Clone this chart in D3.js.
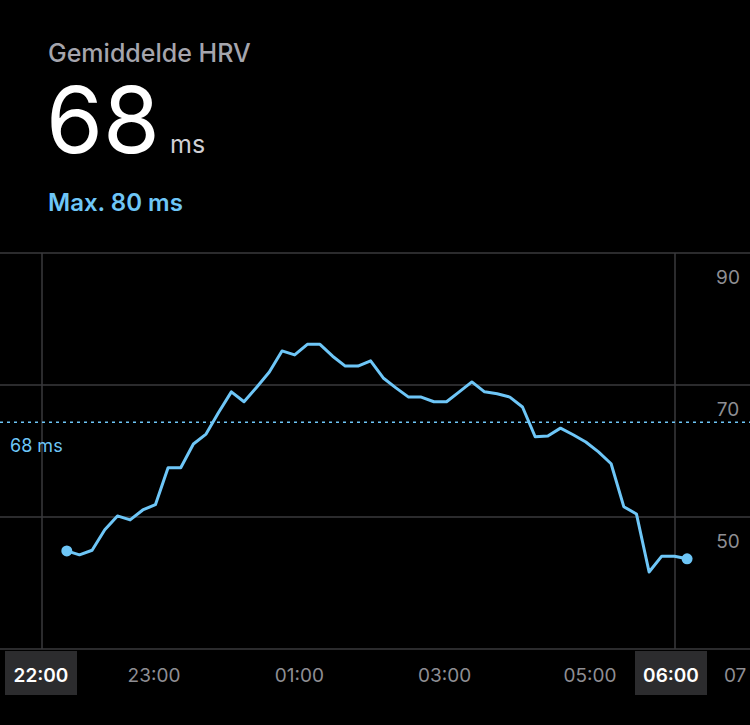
<!DOCTYPE html>
<html><head><meta charset="utf-8">
<script src="https://cdn.jsdelivr.net/npm/d3@7"></script>
<style>body{margin:0;background:#000}svg{display:block;font-family:Inter,"Open Sans",sans-serif}</style>
</head><body><div id="chart"></div>
<script>
// HRV per ~10 min, starting 21:48
const startHour = 21.8;
const stepHours = 0.1742;
const hrv = [48.5, 47.9, 48.6, 51.7, 53.8, 53.2, 54.7, 55.5, 61.1, 61.1,
  64.7, 66.2, 69.5, 72.6, 71.1, 73.3, 75.6, 78.8, 78.2, 79.8,
  79.8, 78.0, 76.5, 76.5, 77.3, 74.7, 73.2, 71.8, 71.8, 71.1,
  71.1, 72.6, 74.1, 72.6, 72.3, 71.8, 70.3, 65.8, 65.9, 67.1,
  66.1, 65.0, 63.5, 61.7, 55.2, 54.1, 45.3, 47.7, 47.7, 47.3];
const yTicks = [90, 70, 50];
const hourTicks = [22, 23, 25, 27, 29, 30, 31];
const boxedHours = [22, 30];
const average = 68;
const maxValue = 80;

const width = 750, height = 725;
const svg = d3.select('#chart').append('svg').attr('width', width).attr('height', height);

const x = d3.scaleLinear().domain([23, 29]).range([154, 590]);
const y = d3.scaleLinear().domain([70, 90]).range([409, 277]);
const gridOffset = -24;

// header
svg.append('text').attr('x', 48).attr('y', 62).attr('fill', '#a5a5ad')
  .attr('font-size', 25).attr('font-weight', 500).text('Gemiddelde HRV');
svg.append('text').attr('x', 46).attr('y', 153).attr('fill', '#fff')
  .attr('font-size', 92).text(average);
svg.append('text').attr('x', 170).attr('y', 153).attr('fill', '#d0d0d5')
  .attr('font-size', 25).text('ms');
svg.append('text').attr('x', 48).attr('y', 211).attr('fill', '#6ec6f7')
  .attr('font-size', 24).attr('font-weight', 600).text(`Max. ${maxValue} ms`);

// grid
const gridVals = [90, 70, 50, 30];
svg.selectAll('.hgrid').data(gridVals).enter().append('line')
  .attr('x1', 0).attr('x2', width)
  .attr('y1', d => y(d) + gridOffset).attr('y2', d => y(d) + gridOffset)
  .attr('stroke', '#3a3a3c').attr('stroke-width', 1.5);

const vx = h => h === 22 ? 42 : (h === 30 ? 675 : x(h));
svg.selectAll('.vgrid').data(boxedHours).enter().append('line')
  .attr('x1', vx).attr('x2', vx)
  .attr('y1', y(90) + gridOffset).attr('y2', y(30) + gridOffset)
  .attr('stroke', '#3a3a3c').attr('stroke-width', 1.5);

svg.selectAll('.ylab').data(yTicks).enter().append('text')
  .attr('x', 728).attr('y', d => y(d) + 7).attr('text-anchor', 'middle')
  .attr('fill', '#8e8e93').attr('font-size', 19).text(d => d);

// average line
svg.append('line').attr('x1', 0).attr('x2', width)
  .attr('y1', y(average)).attr('y2', y(average))
  .attr('stroke', '#6ec6f7').attr('stroke-width', 1.5).attr('stroke-dasharray', '3,4');
svg.append('text').attr('x', 10).attr('y', y(average) + 30).attr('fill', '#6ec6f7')
  .attr('font-size', 18).text(`${average} ms`);

// line
const pts = hrv.map((v, i) => [x(startHour + i * stepHours), y(v)]);
svg.append('path').datum(pts)
  .attr('d', d3.line())
  .attr('fill', 'none').attr('stroke', '#6ec6f7').attr('stroke-width', 3)
  .attr('stroke-linejoin', 'round');
svg.selectAll('.end').data([pts[0], pts[pts.length - 1]]).enter().append('circle')
  .attr('cx', d => d[0]).attr('cy', d => d[1]).attr('r', 5.5).attr('fill', '#6ec6f7');

// x labels
const fmt = h => String(h % 24).padStart(2, '0') + ':00';
const lx = h => h === 22 ? 41 : (h === 30 ? 671 : (h === 31 ? 744 : x(h)));
const boxes = svg.selectAll('.xbox').data(boxedHours).enter();
boxes.append('rect').attr('x', d => lx(d) - 36).attr('y', 651).attr('width', 72).attr('height', 44)
  .attr('fill', '#2c2c2e');
svg.selectAll('.xlab').data(hourTicks).enter().append('text')
  .attr('x', lx).attr('y', 682).attr('text-anchor', d => d === 31 ? 'start' : 'middle')
  .attr('dx', d => d === 31 ? -20 : 0)
  .attr('fill', d => boxedHours.includes(d) ? '#fff' : '#8e8e93')
  .attr('font-size', 19).attr('font-weight', d => boxedHours.includes(d) ? 600 : 400)
  .text(d => d === 31 ? '07' : fmt(d));
</script></body></html>
